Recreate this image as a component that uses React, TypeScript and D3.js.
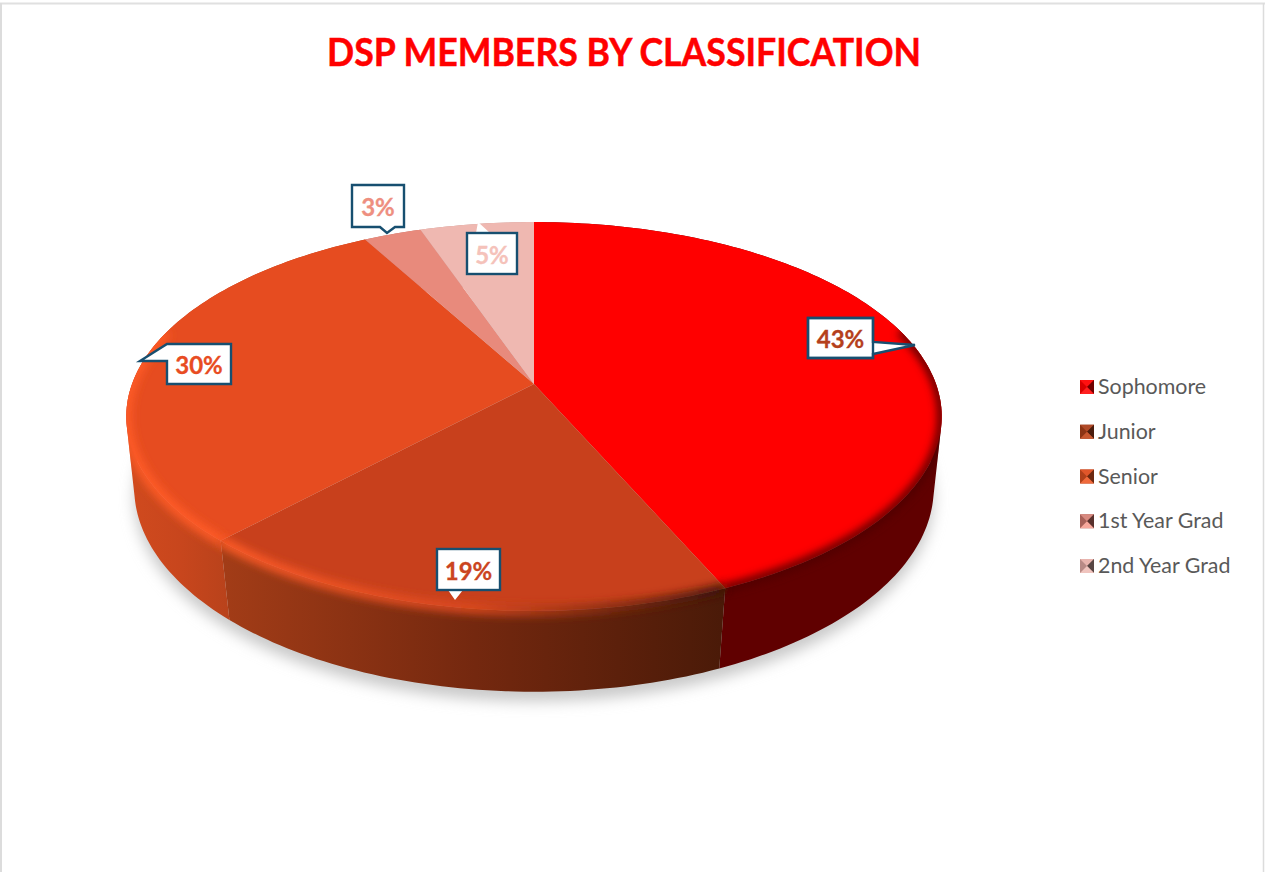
import React from "react";
import * as d3 from "d3";

// chart values
const categories = ["Sophomore", "Junior", "Senior", "1st Year Grad", "2nd Year Grad"];
const shares = [43.4, 18.6, 30.0, 2.7, 5.3];
const labels = ["43%", "19%", "30%", "3%", "5%"];

const faceColors = ["#ff0000", "#c8401c", "#e64c20", "#e88a7c", "#efb8b1"];
const labelColors = ["#b5401c", "#cb4520", "#e84c22", "#ee8f80", "#f5c2ba"];
const wallStops = [
  ["#640000", "#640000", "#600000"],
  ["#a23c17", "#74280f", "#4a1a08"],
  ["#d04a1e", "#c8461d", "#b8421b"],
  ["#c07468", "#c07468", "#c07468"],
  ["#c89a94", "#c89a94", "#c89a94"],
];
const rimStops = [
  ["#500000", "#500000", "#500000"],
  ["#ff5c28", "#d8481f", "#3c1406"],
  ["#ff5c28", "#ff5c28", "#ff5c28"],
  ["#e88a7c", "#e88a7c", "#e88a7c"],
  ["#efb8b1", "#efb8b1", "#efb8b1"],
];
const legendKeys = [
  ["#ff1010", "#d80000", "#700000", "#ff2020"],
  ["#b04a28", "#8c3414", "#4a1c0c", "#c8582f"],
  ["#e0562a", "#b0401a", "#6c2810", "#f06a3c"],
  ["#d88a80", "#a86058", "#58302c", "#f8a89c"],
  ["#e8b4ae", "#b88a86", "#584644", "#f0c4be"],
];

// callouts: box, pointer tip, which side the pointer leaves from
const calloutBoxes = [
  { x: 808, y: 318, w: 65, h: 40, tip: [915, 345], side: "right", base: [342, 354], stroke: true, closed: true },
  { x: 437, y: 549, w: 63, h: 41, tip: [455, 600], side: "bottom", base: [448, 463], stroke: false, closed: true },
  { x: 167, y: 344, w: 64, h: 40, tip: [140, 361], side: "left", base: [344, 361], stroke: true, closed: false },
  { x: 352, y: 185, w: 52, h: 42, tip: [387, 233], side: "bottom", base: [380, 395], stroke: true, closed: false },
  { x: 467, y: 233, w: 50, h: 41, tip: [478, 222], side: "top", base: [476, 490], stroke: false, closed: true },
];

const W = 1265;
const H = 872;
const cx = 534;
const top = { a: 402, y0: 384, q: 189, p: 0.167 };
const bottom = { a: 395, y0: 456.5, q: 199, p: 0.154 };

type Plane = { a: number; y0: number; q: number; p: number };

// tilted disc: unit circle through a small perspective
function project(angle: number, plane: Plane): [number, number] {
  const u = Math.sin(angle);
  const v = -Math.cos(angle);
  const w = 1 - plane.p * v;
  return [cx + (plane.a * u) / w, plane.y0 + (plane.q * v) / w];
}

function arcPoints(start: number, end: number, plane: Plane) {
  const n = Math.max(2, Math.ceil((end - start) / 0.02));
  return d3.range(n + 1).map((i) => project(start + ((end - start) * i) / n, plane));
}

const line = d3.line();
const pie = d3.pie<number>().sort(null).value((d) => d);
const arcs = pie(shares);

const legendY = d3.scalePoint<string>().domain(categories).range([387, 566]);
const legendX = 1080;
const keySize = 14;

function slicePath(d: d3.PieArcDatum<number>) {
  return line([[cx, top.y0], ...arcPoints(d.startAngle, d.endAngle, top)]) + "Z";
}

// the wall is a run of small quads. They fold over each other at the far left and
// right, so all of them get the same winding or the overlap would cancel out
function wallPath(d: d3.PieArcDatum<number>) {
  const t = arcPoints(d.startAngle, d.endAngle, top);
  const b = arcPoints(d.startAngle, d.endAngle, bottom);
  return d3
    .range(t.length - 1)
    .map((i) => {
      const quad: [number, number][] = [t[i], t[i + 1], b[i + 1], b[i]];
      if (d3.polygonArea(quad) < 0) quad.reverse();
      return line(quad) + "Z";
    })
    .join("");
}

// only the part of the rim facing the viewer carries the bevel
function rimPath(d: d3.PieArcDatum<number>) {
  const pts = arcPoints(d.startAngle, d.endAngle, top).filter((pt) => pt[1] > 330);
  return pts.length > 1 ? line(pts) : null;
}

function calloutPath(c: (typeof calloutBoxes)[number]) {
  const { x, y, w, h, tip, side, base } = c;
  const r = x + w;
  const b = y + h;
  const pts: [number, number][] = [[x, y]];
  if (side === "top") pts.push([base[0], y], [tip[0], tip[1]], [base[1], y]);
  pts.push([r, y]);
  if (side === "right") pts.push([r, base[0]], [tip[0], tip[1]], [r, base[1]]);
  pts.push([r, b]);
  if (side === "bottom") pts.push([base[1], b], [tip[0], tip[1]], [base[0], b]);
  pts.push([x, b]);
  if (side === "left") pts.push([x, base[1]], [tip[0], tip[1]], [x, base[0]]);
  return line(pts) + "Z";
}

export default function App() {
  return (
    <svg
      width={W}
      height={H}
      style={{ position: "fixed", left: 0, top: 0, background: "#fff" }}
      fontFamily="Lato"
    >
      <defs>
        <filter id="shadowBlur" x="-10%" y="-10%" width="120%" height="120%">
          <feGaussianBlur stdDeviation="7" />
        </filter>
        <filter id="rimBlur" x="-10%" y="-30%" width="120%" height="160%">
          <feGaussianBlur stdDeviation="4" />
        </filter>
        <clipPath id="discClip">
          {arcs.map((d, i) => (
            <path key={"f" + i} d={slicePath(d)} />
          ))}
          {arcs.map((d, i) => (
            <path key={"w" + i} d={wallPath(d)} />
          ))}
        </clipPath>
        {wallStops.map((stops, i) => (
          <linearGradient
            key={i}
            id={"wall" + i}
            gradientUnits="userSpaceOnUse"
            x1={i === 2 ? 130 : 225}
            x2={i === 2 ? 230 : 725}
            y1="0"
            y2="0"
          >
            {stops.map((c, j) => (
              <stop key={j} offset={j / 2} stopColor={c} />
            ))}
          </linearGradient>
        ))}
        {rimStops.map((stops, i) => (
          <linearGradient
            key={i}
            id={"rim" + i}
            gradientUnits="userSpaceOnUse"
            x1={225}
            x2={725}
            y1="0"
            y2="0"
          >
            {stops.map((c, j) => (
              <stop key={j} offset={j / 2} stopColor={c} />
            ))}
          </linearGradient>
        ))}
      </defs>

      {/* chart frame */}
      <line x1={0} x2={W} y1={3.5} y2={3.5} stroke="#e0e0e0" strokeWidth={2} />
      <line x1={1} x2={1} y1={3} y2={H} stroke="#dcdcdc" strokeWidth={2} />
      <line x1={1263.5} x2={1263.5} y1={3} y2={H} stroke="#dcdcdc" strokeWidth={1.5} />

      <text
        x={624}
        y={66}
        textAnchor="middle"
        fontSize={38}
        fontWeight={700}
        fill="#ff0000"
        stroke="#ff0000"
        strokeWidth={0.5}
        textLength={594}
        lengthAdjust="spacingAndGlyphs"
      >
        DSP MEMBERS BY CLASSIFICATION
      </text>

      {/* soft shadow under the disc */}
      <g filter="url(#shadowBlur)" transform="translate(0,10)">
        <path d={line(arcPoints(0, 2 * Math.PI, bottom)) + "Z"} fill="#cacaca" />
      </g>

      {arcs.map((d, i) => (
        <path key={i} d={wallPath(d)} fill={`url(#wall${i})`} />
      ))}
      {arcs.map((d, i) => (
        <path key={i} d={slicePath(d)} fill={faceColors[i]} />
      ))}

      {/* bevel along the front rim */}
      <g clipPath="url(#discClip)">
        {arcs.map((d, i) => {
          const rim = rimPath(d);
          return rim ? (
            <path
              key={i}
              d={rim}
              fill="none"
              stroke={`url(#rim${i})`}
              strokeWidth={i === 0 ? 8 : 10}
              filter="url(#rimBlur)"
            />
          ) : null;
        })}
      </g>

      {calloutBoxes.map((c, i) => (
        <g key={i}>
          <path
            d={calloutPath(c)}
            fill="#fff"
            stroke={c.stroke ? "#174f70" : "none"}
            strokeWidth={2.4}
          />
          {c.closed && (
            <rect x={c.x} y={c.y} width={c.w} height={c.h} fill="none" stroke="#174f70" strokeWidth={2.4} />
          )}
          <text
            x={c.x + c.w / 2}
            y={c.y + c.h / 2 + 10}
            textAnchor="middle"
            fontSize={24}
            fontWeight={700}
            fill={labelColors[i]}
            stroke={labelColors[i]}
            strokeWidth={0.3}
          >
            {labels[i]}
          </text>
        </g>
      ))}

      {categories.map((name, i) => {
        const y = legendY(name) as number;
        const x0 = legendX;
        const y0 = y - keySize / 2;
        const mx = x0 + keySize / 2;
        const my = y;
        const [tc, lc, rc, bc] = legendKeys[i];
        return (
          <g key={name}>
            <rect x={x0} y={y0} width={keySize} height={keySize} fill={lc} />
            <path d={line([[x0, y0], [x0 + keySize, y0], [mx, my]]) + "Z"} fill={tc} />
            <path d={line([[x0 + keySize, y0], [x0 + keySize, y0 + keySize], [mx, my]]) + "Z"} fill={rc} />
            <path d={line([[x0, y0 + keySize], [x0 + keySize, y0 + keySize], [mx, my]]) + "Z"} fill={bc} />
            <text x={legendX + 18} y={y + 7} fontSize={21.4} fill="#595959">
              {name}
            </text>
          </g>
        );
      })}
    </svg>
  );
}
